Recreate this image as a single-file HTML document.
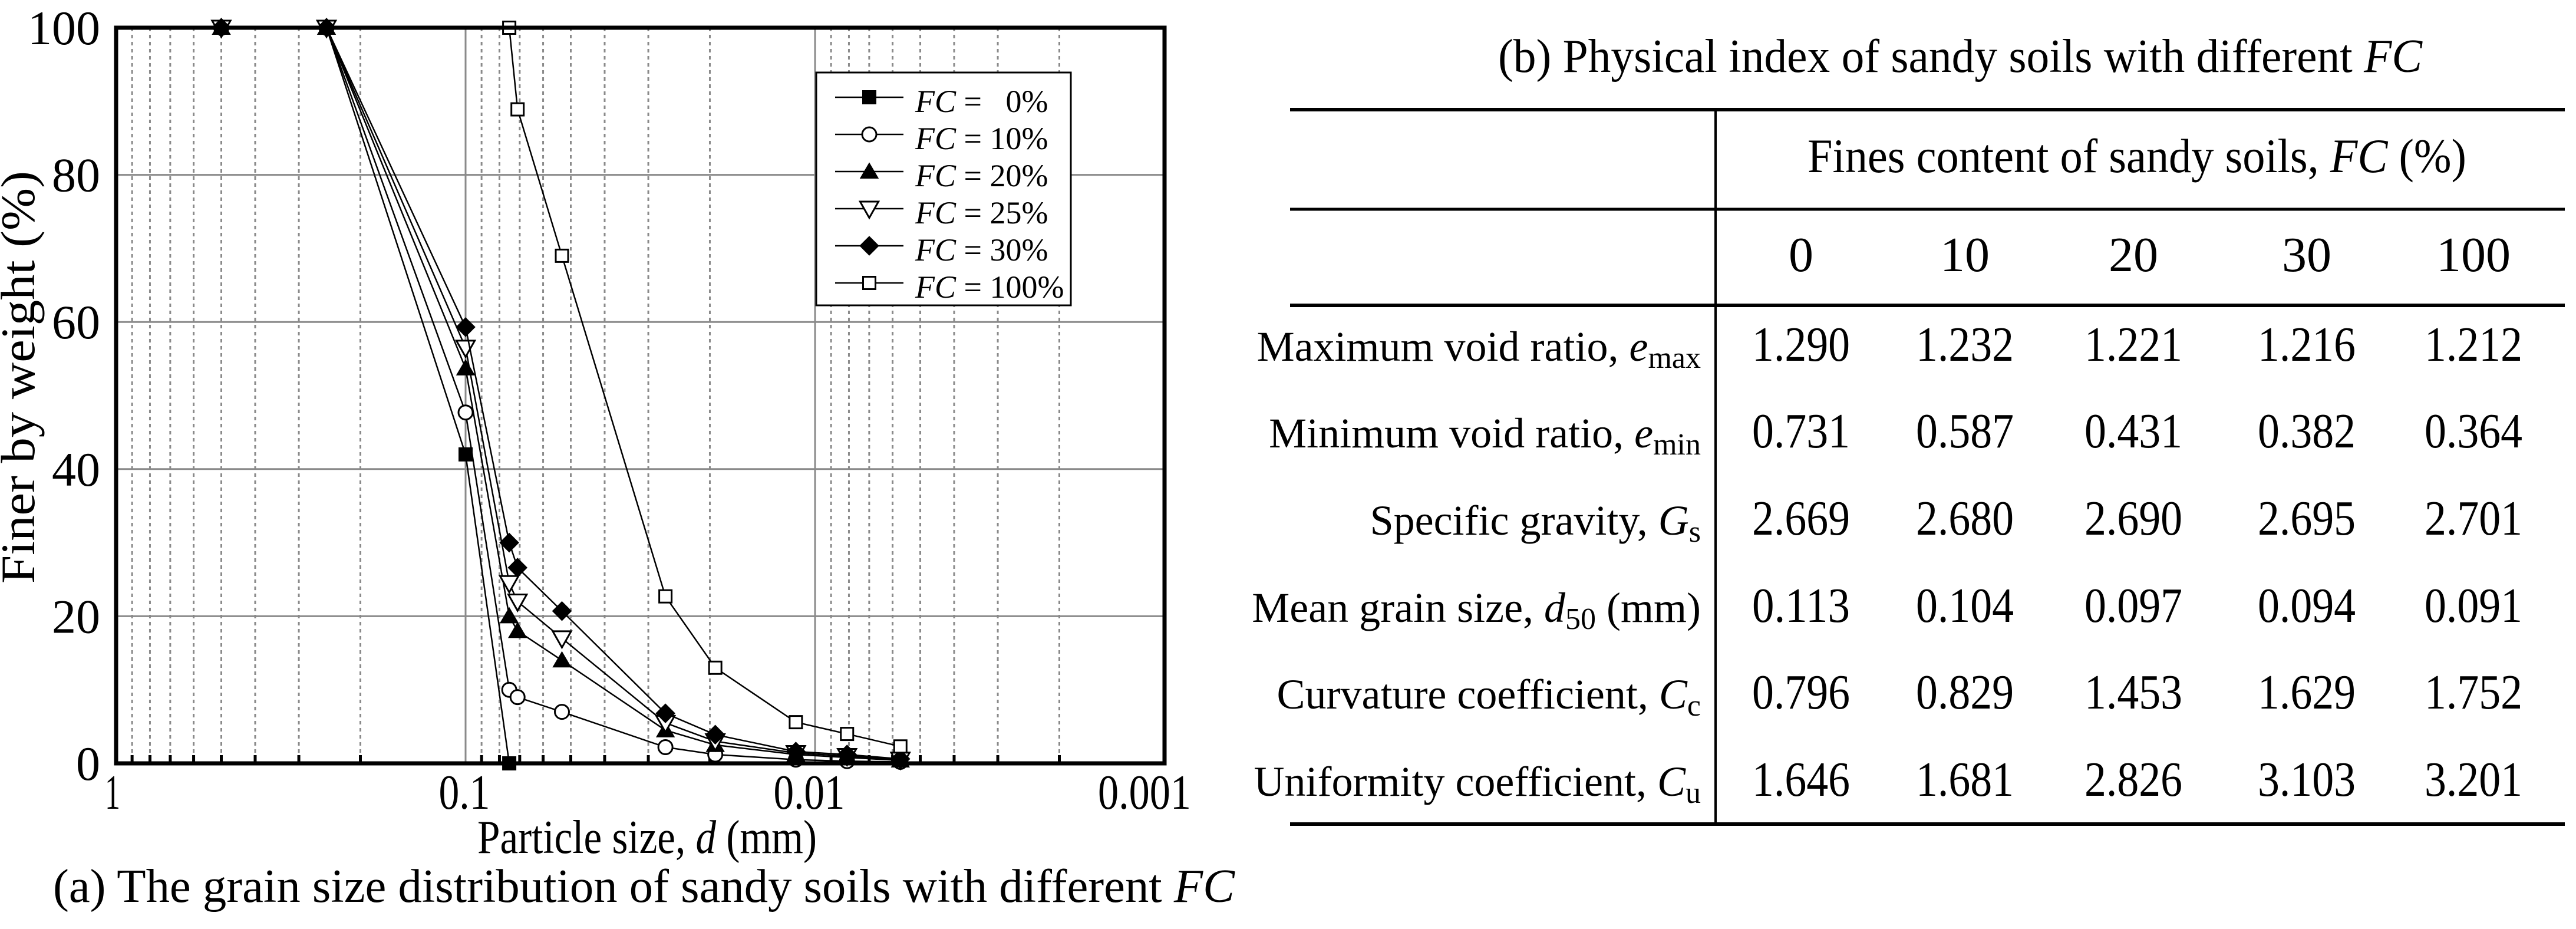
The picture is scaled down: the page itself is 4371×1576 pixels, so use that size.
<!DOCTYPE html>
<html><head><meta charset="utf-8"><style>
html,body{margin:0;padding:0;background:#fff;}
svg{display:block;font-family:"Liberation Serif",serif;}
</style></head><body>
<svg id="fig" width="4371" height="1576" viewBox="0 0 4371 1576" xmlns="http://www.w3.org/2000/svg">
<g id="chart"></g>
<g id="table"></g>
</svg>
<script>
const NS="http://www.w3.org/2000/svg";
// ---- chart data ----
const seriesNames=["FC =   0%","FC = 10%","FC = 20%","FC = 25%","FC = 30%","FC = 100%"];
const markers=["sq-fill","circle","tri-up","tri-down","diamond","sq-open"];
const sizes0=[0.5,0.25,0.1,0.075];
const vals0=[100,100,42,0];
const sizesFine=[0.5,0.25,0.1,0.075,0.071,0.053,0.0268,0.0193,0.01135,0.0081,0.0057];
const vals10=[100,100,47.7,10,9,7,2.2,1.2,0.5,0.3,0.2];
const vals20=[100,100,53.7,20,18,14,4.5,2.5,1.2,0.8,0.4];
const vals25=[100,100,56.5,24.5,22,17,5.5,3,1.4,1,0.5];
const vals30=[100,100,59.3,30,26.6,20.7,6.8,3.9,1.6,1.2,0.6];
const sizes100=[0.075,0.071,0.053,0.0268,0.0193,0.01135,0.0081,0.0057];
const vals100=[100,88.9,69,22.7,13,5.6,4,2.3];
const xTicks=[1,0.1,0.01,0.001];
const xTickLabels=["1","0.1","0.01","0.001"];
const yTicks=[0,20,40,60,80,100];

const L=197,R=1976,T=47,B=1295;
const xs=d=>L+(-Math.log10(d))*(R-L)/3;
const ys=v=>B-v/100*(B-T);

function el(tag,attrs,parent){const e=document.createElementNS(NS,tag);for(const k in attrs)e.setAttribute(k,attrs[k]);parent.appendChild(e);return e;}
const C=document.getElementById('chart');

// grid
for(let dec=0;dec<3;dec++){
  for(let m=2;m<=9;m++){
    const dv=m*Math.pow(10,-(dec+1));
    const x=xs(dv);
    const g=el('line',{x1:x,x2:x,y1:T,y2:B,stroke:'#8a8a8a','stroke-width':3,'stroke-dasharray':'6,6'},C);
    
    
    const t=el('line',{x1:x,x2:x,y1:B-14,y2:B,stroke:'#000','stroke-width':5},C);
    
    
  }
}
[0.1,0.01].forEach(d=>{const g=el('line',{x1:xs(d),x2:xs(d),y1:T,y2:B,stroke:'#8a8a8a','stroke-width':3},C);
 
 });
[20,40,60,80].forEach(v=>{const g=el('line',{x1:L,x2:R,y1:ys(v),y2:ys(v),stroke:'#8a8a8a','stroke-width':3},C);
 
 });

// series
const allSeries=[[sizes0,vals0],[sizesFine,vals10],[sizesFine,vals20],[sizesFine,vals25],[sizesFine,vals30],[sizes100,vals100]];
function marker(kind,x,y,parent,s){
  let m;
  if(kind==='sq-fill')m=el('rect',{x:x-s,y:y-s,width:2*s,height:2*s,fill:'#000'},parent);
  else if(kind==='sq-open')m=el('rect',{x:x-s+1.5,y:y-s+1.5,width:2*s-3,height:2*s-3,fill:'#fff',stroke:'#000','stroke-width':3},parent);
  else if(kind==='circle')m=el('circle',{cx:x,cy:y,r:s,fill:'#fff',stroke:'#000','stroke-width':3},parent);
  else if(kind==='tri-up')m=el('polygon',{points:`${x},${y-s*1.3} ${x-s*1.35},${y+s} ${x+s*1.35},${y+s}`,fill:'#000'},parent);
  else if(kind==='tri-down')m=el('polygon',{points:`${x-s*1.3},${y-s} ${x+s*1.3},${y-s} ${x},${y+s*1.3}`,fill:'#fff',stroke:'#000','stroke-width':3},parent);
  else m=el('polygon',{points:`${x},${y-s*1.4} ${x+s*1.4},${y} ${x},${y+s*1.4} ${x-s*1.4},${y}`,fill:'#000'},parent);
  return m;
}
allSeries.forEach((sv,i)=>{
  const g=el('g',{},C);
  
  
  const pts=sv[0].map((d,j)=>xs(d)+','+ys(sv[1][j])).join(' ');
  const pl=el('polyline',{points:pts,fill:'none',stroke:'#000','stroke-width':2.5},g);
  
  
  sv[0].forEach((d,j)=>{const m=marker(markers[i],xs(d),ys(sv[1][j]),g,12);
    
    });
});

// frame
const fr=el('rect',{x:L,y:T,width:R-L,height:B-T,fill:'none',stroke:'#000','stroke-width':7},C);



// ticks labels
yTicks.forEach(v=>{const t=el('text',{x:170,y:ys(v)+28,'font-size':82,'text-anchor':'end'},C);t.textContent=v;
 
 });
const xLabelShift=[-6,-2,-10,-34];
const xLabelW=[26,87,121,158];
xTicks.forEach((d,i)=>{const t=el('text',{x:xs(d)+xLabelShift[i],y:1372,'font-size':84,'text-anchor':'middle',textLength:xLabelW[i],lengthAdjust:'spacingAndGlyphs'},C);t.textContent=xTickLabels[i];
 
 });

// axis titles
let t=el('text',{x:0,y:0,'font-size':82,'text-anchor':'middle',transform:'translate(58,640) rotate(-90)',textLength:700,lengthAdjust:'spacingAndGlyphs'},C);
t.textContent='Finer by weight (%)';


t=el('text',{x:1098,y:1447,'font-size':80,'text-anchor':'middle',textLength:576,lengthAdjust:'spacingAndGlyphs'},C);
t.innerHTML='Particle size, <tspan font-style="italic">d</tspan> (mm)';


t=el('text',{x:90,y:1530,'font-size':80,textLength:2005,lengthAdjust:'spacingAndGlyphs'},C);
t.innerHTML='(a)  The grain size distribution  of sandy soils with different <tspan font-style="italic">FC</tspan>';



// legend
const lg=el('g',{},C);


el('rect',{x:1385,y:123,width:432,height:395,fill:'#fff',stroke:'#000','stroke-width':3},lg);
seriesNames.forEach((n,i)=>{
  const y=165+i*63;
  const e=el('g',{},lg);
  
  
  el('line',{x1:1417,x2:1533,y1:y,y2:y,stroke:'#000','stroke-width':2.5},e);
  marker(markers[i],1475,y,e,12);
  const tx=el('text',{x:1553,y:y+25,'font-size':54},e);
  tx.setAttribute('xml:space','preserve');
  tx.innerHTML='<tspan font-style="italic">FC</tspan>'+n.slice(2).replace(/ /g,'\u00a0');
});

// ---- table ----
const TB=document.getElementById('table');
const colHeads=["0","10","20","30","100"];
const colX=[3056,3334,3620,3914,4197];
const rowLabels=['Maximum void ratio, <tspan font-style="italic">e</tspan><tspan font-size="52" dy="12">max</tspan>',
'Minimum void ratio, <tspan font-style="italic">e</tspan><tspan font-size="52" dy="12">min</tspan>',
'Specific gravity, <tspan font-style="italic">G</tspan><tspan font-size="52" dy="12">s</tspan>',
'Mean grain size, <tspan font-style="italic">d</tspan><tspan font-size="52" dy="12">50</tspan><tspan dy="-12"> (mm)</tspan>',
'Curvature coefficient, <tspan font-style="italic">C</tspan><tspan font-size="52" dy="12">c</tspan>',
'Uniformity coefficient, <tspan font-style="italic">C</tspan><tspan font-size="52" dy="12">u</tspan>'];
const rowEmax=["1.290","1.232","1.221","1.216","1.212"];
const rowEmin=["0.731","0.587","0.431","0.382","0.364"];
const rowGs=["2.669","2.680","2.690","2.695","2.701"];
const rowD50=["0.113","0.104","0.097","0.094","0.091"];
const rowCc=["0.796","0.829","1.453","1.629","1.752"];
const rowCu=["1.646","1.681","2.826","3.103","3.201"];
const rows=[rowEmax,rowEmin,rowGs,rowD50,rowCc,rowCu];
const rowY=[612,759,907,1055,1202,1350];

t=el('text',{x:3326,y:122,'font-size':80,'text-anchor':'middle',textLength:1568,lengthAdjust:'spacingAndGlyphs'},TB);
t.innerHTML='(b)  Physical index of sandy soils with different <tspan font-style="italic">FC</tspan>';


[[186,6],[355,5],[518,6],[1398,6]].forEach(r=>{const l=el('line',{x1:2189,x2:4352,y1:r[0],y2:r[0],stroke:'#000','stroke-width':r[1]},TB);
 
 });
let v=el('line',{x1:2911,x2:2911,y1:186,y2:1398,stroke:'#000','stroke-width':4},TB);


t=el('text',{x:3626,y:292,'font-size':82,'text-anchor':'middle',textLength:1118,lengthAdjust:'spacingAndGlyphs'},TB);
t.innerHTML='Fines content of sandy soils, <tspan font-style="italic">FC</tspan> (%)';


colHeads.forEach((h,i)=>{const c=el('text',{x:colX[i],y:460,'font-size':84,'text-anchor':'middle'},TB);c.textContent=h;
 
 });
rows.forEach((r,ri)=>{
  const lb=el('text',{x:2886,y:rowY[ri],'font-size':72,'text-anchor':'end'},TB);
  lb.innerHTML=rowLabels[ri];
  
  
  r.forEach((val,ci)=>{const c=el('text',{x:colX[ci],y:rowY[ri],'font-size':84,'text-anchor':'middle',textLength:166,lengthAdjust:'spacingAndGlyphs'},TB);c.textContent=val;
    
    });
});
</script>
</body></html>
